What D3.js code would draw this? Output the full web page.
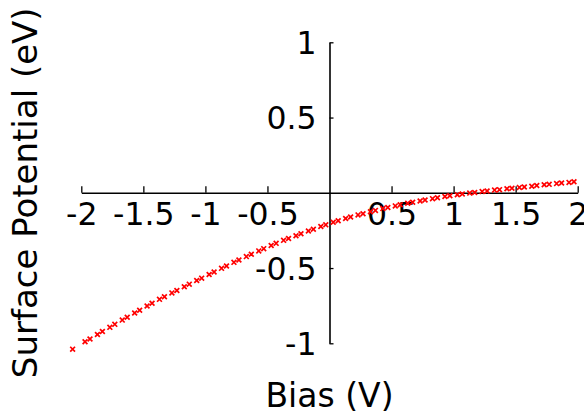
<!DOCTYPE html>
<html>
<head>
<meta charset="utf-8">
<script src="https://cdn.jsdelivr.net/npm/d3@7"></script>
<style>
  html, body { margin: 0; padding: 0; background: #fff; }
  svg { display: block; }
  text { font-family: "DejaVu Sans", Verdana, sans-serif; fill: #000; }
</style>
</head>
<body>
<svg id="chart" width="584" height="417"></svg>
<script>
// Surface potential measured against applied bias
const biasV = [
  -2.07,
  -1.97, -1.93, -1.87, -1.83, -1.77, -1.73, -1.67, -1.63, -1.57, -1.53,
  -1.47, -1.43, -1.37, -1.33, -1.27, -1.23, -1.17, -1.13, -1.07, -1.03,
  -0.97, -0.93, -0.87, -0.83, -0.77, -0.73, -0.67, -0.63, -0.57, -0.53,
  -0.47, -0.43, -0.37, -0.33, -0.27, -0.23, -0.17, -0.13, -0.07, -0.03,
   0.03,  0.07,  0.13,  0.17,  0.23,  0.27,  0.33,  0.37,  0.43,  0.47,
   0.53,  0.57,  0.63,  0.67,  0.73,  0.77,  0.83,  0.87,  0.93,  0.97,
   1.03,  1.07,  1.13,  1.17,  1.23,  1.27,  1.33,  1.37,  1.43,  1.47,
   1.53,  1.57,  1.63,  1.67,  1.73,  1.77,  1.83,  1.87,  1.93,  1.97
];
const surfacePotentialEV = [
  -1.039,
  -0.990, -0.971, -0.942, -0.922, -0.894, -0.874, -0.846, -0.827, -0.799, -0.780,
  -0.752, -0.734, -0.708, -0.691, -0.665, -0.649, -0.624, -0.607, -0.583, -0.567,
  -0.543, -0.526, -0.502, -0.486, -0.462, -0.447, -0.424, -0.408, -0.386, -0.371,
  -0.350, -0.336, -0.316, -0.304, -0.285, -0.272, -0.254, -0.242, -0.224, -0.213,
  -0.196, -0.186, -0.171, -0.161, -0.147, -0.139, -0.126, -0.117, -0.105, -0.098,
  -0.087, -0.079, -0.069, -0.063, -0.054, -0.048, -0.039, -0.033, -0.025, -0.020,
  -0.013, -0.008, -0.002,  0.002,  0.008,  0.012,  0.018,  0.021,  0.027,  0.030,
   0.036,  0.039,  0.044,  0.048,  0.053,  0.056,  0.061,  0.065,  0.069,  0.073
];
const xTicks = [-2, -1.5, -1, -0.5, 0.5, 1, 1.5, 2];
const yTicks = [-1, -0.5, 0.5, 1];
const xTickLabels = ["-2", "-1.5", "-1", "-0.5", "0.5", "1", "1.5", "2"];
const yTickLabels = ["-1", "-0.5", "0.5", "1"];

const svg = d3.select("#chart");

const x = d3.scaleLinear().domain([-2, 2]).range([81.3, 577.7]);
const y = d3.scaleLinear().domain([-1, 1]).range([343.3, 42.3]);

const x0 = x(0), y0 = y(0);

// horizontal axis through y = 0, ticks pointing up, labels below
const xAxis = d3.axisBottom(x)
  .tickValues(xTicks)
  .tickFormat((d, i) => xTickLabels[i])
  .tickSizeInner(-6.5)
  .tickSizeOuter(0)
  .tickPadding(8);

const gx = svg.append("g")
  .attr("transform", `translate(0,${y0})`)
  .call(xAxis);
gx.select(".domain").attr("stroke", "#000").attr("stroke-width", 1.6);
gx.selectAll(".tick line").attr("stroke", "#000").attr("stroke-width", 1.3);
gx.selectAll(".tick text")
  .attr("font-family", "DejaVu Sans, sans-serif")
  .attr("font-size", 31.5)
  .attr("dy", "0.78em")
  .attr("y", 8);

// vertical axis through x = 0, ticks pointing right, labels left
const yAxis = d3.axisLeft(y)
  .tickValues(yTicks)
  .tickFormat((d, i) => yTickLabels[i])
  .tickSizeInner(-4)
  .tickSizeOuter(0)
  .tickPadding(0);

const gy = svg.append("g")
  .attr("transform", `translate(${x0},0)`)
  .call(yAxis);
gy.select(".domain").attr("stroke", "#000").attr("stroke-width", 1.6);
gy.selectAll(".tick line").attr("stroke", "#000").attr("stroke-width", 1.3);
gy.selectAll(".tick text")
  .attr("font-family", "DejaVu Sans, sans-serif")
  .attr("font-size", 31.5)
  .attr("x", -13)
  .attr("dy", "0.36em");

// data markers drawn as small crosses
const pts = biasV.map((v, i) => [v, surfacePotentialEV[i]]);
const r = 2.4;
svg.append("g")
  .selectAll("path")
  .data(pts)
  .join("path")
  .attr("transform", d => `translate(${x(d[0])},${y(d[1])})`)
  .attr("d", `M${-r},${-r}L${r},${r}M${-r},${r}L${r},${-r}`)
  .attr("stroke", "#ff0000")
  .attr("stroke-width", 1.7)
  .attr("fill", "none");

// axis titles
svg.append("text")
  .attr("x", x0)
  .attr("y", 407)
  .attr("text-anchor", "middle")
  .attr("font-size", 33)
  .text("Bias (V)");

svg.append("text")
  .attr("transform", `translate(37,${y0}) rotate(-90)`)
  .attr("text-anchor", "middle")
  .attr("font-size", 34)
  .text("Surface Potential (eV)");
</script>
</body>
</html>
